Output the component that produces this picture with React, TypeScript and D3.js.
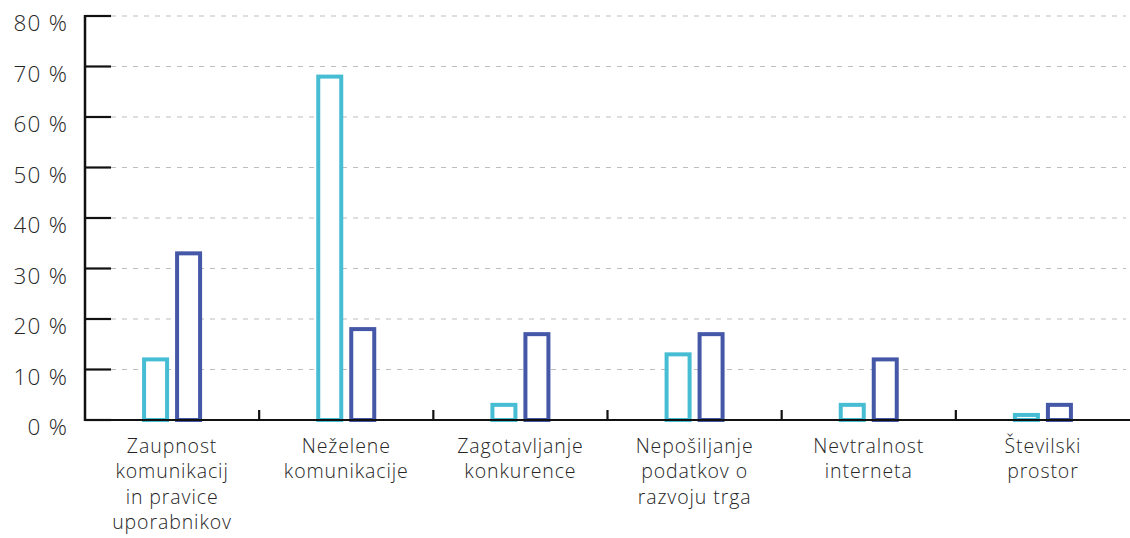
import React, { useEffect, useRef } from "react";
import * as d3 from "d3";

const categories: string[][] = [
  ["Zaupnost", "komunikacij", "in pravice", "uporabnikov"],
  ["Neželene", "komunikacije"],
  ["Zagotavljanje", "konkurence"],
  ["Nepošiljanje", "podatkov o", "razvoju trga"],
  ["Nevtralnost", "interneta"],
  ["Številski", "prostor"],
];
const seriesA: number[] = [12, 68, 3, 13, 3, 1];
const seriesB: number[] = [33, 18, 17, 17, 12, 3];
const yTicks: number[] = [0, 10, 20, 30, 40, 50, 60, 70, 80];

const W = 1130;
const H = 538;
const M = { left: 85, right: 0, top: 16, bottom: 118 };
const COLOR_A = "#46bdd3";
const COLOR_B = "#4558a7";
const TEXT = "#262626";
const FONT = "'Open Sans', Lato, sans-serif";

export default function App() {
  const ref = useRef<SVGSVGElement | null>(null);

  useEffect(() => {
    document.body.style.margin = "0";
    const svg = d3.select(ref.current);
    svg.selectAll("*").remove();

    const x = d3
      .scaleBand<number>()
      .domain(categories.map((_, i) => i))
      .range([M.left, W - M.right])
      .paddingInner(0)
      .paddingOuter(0);
    const y = d3.scaleLinear().domain([0, 80]).range([H - M.bottom, M.top]);

    const g = svg.append("g");

    // gridlines
    g.selectAll("line.grid")
      .data(yTicks.filter((t) => t > 0))
      .join("line")
      .attr("x1", M.left + 26)
      .attr("x2", W - 4)
      .attr("y1", (d) => y(d))
      .attr("y2", (d) => y(d))
      .attr("stroke", "#bdbdbd")
      .attr("stroke-width", 1.2)
      .attr("stroke-dasharray", "5,6");

    // y tick marks (inward)
    g.selectAll("line.ytick")
      .data(yTicks)
      .join("line")
      .attr("x1", M.left)
      .attr("x2", M.left + 26)
      .attr("y1", (d) => y(d))
      .attr("y2", (d) => y(d))
      .attr("stroke", "#111")
      .attr("stroke-width", 2.2);

    // y labels
    g.selectAll("text.ylab")
      .data(yTicks)
      .join("text")
      .attr("x", 68)
      .attr("y", (d) => y(d) + 15)
      .attr("text-anchor", "end")
      .attr("font-family", FONT)
      .attr("font-weight", 300)
      .attr("font-size", 22.5)
      .attr("letter-spacing", 1.2)
      .attr("fill", TEXT)
      .text((d) => `${d} %`);

    const bw = 23;
    const sw = 4;
    const half = 3 + 27 / 2; // center offset of each bar from band center

    g.selectAll("rect.a")
      .data(seriesA)
      .join("rect")
      .attr("x", (d, i) => x(i)! + x.bandwidth() / 2 - half - bw / 2)
      .attr("y", (d) => y(d))
      .attr("width", bw)
      .attr("height", (d) => y(0) - y(d))
      .attr("fill", "#fff")
      .attr("stroke", COLOR_A)
      .attr("stroke-width", sw);

    g.selectAll("rect.b")
      .data(seriesB)
      .join("rect")
      .attr("x", (d, i) => x(i)! + x.bandwidth() / 2 + half - bw / 2)
      .attr("y", (d) => y(d))
      .attr("width", bw)
      .attr("height", (d) => y(0) - y(d))
      .attr("fill", "#fff")
      .attr("stroke", COLOR_B)
      .attr("stroke-width", sw);

    // axes lines
    g.append("line")
      .attr("x1", M.left)
      .attr("x2", M.left)
      .attr("y1", y(80) - 1)
      .attr("y2", y(0) + 1)
      .attr("stroke", "#111")
      .attr("stroke-width", 2.5);
    g.append("line")
      .attr("x1", M.left)
      .attr("x2", W)
      .attr("y1", y(0))
      .attr("y2", y(0))
      .attr("stroke", "#111")
      .attr("stroke-width", 2.2);

    // x ticks at band boundaries
    g.selectAll("line.xtick")
      .data(categories.map((_, i) => i).slice(1))
      .join("line")
      .attr("x1", (d) => x(d)!)
      .attr("x2", (d) => x(d)!)
      .attr("y1", y(0) - 10)
      .attr("y2", y(0))
      .attr("stroke", "#111")
      .attr("stroke-width", 2.2);

    // category labels
    const lab = g
      .selectAll("text.xlab")
      .data(categories)
      .join("text")
      .attr("text-anchor", "middle")
      .attr("font-family", FONT)
      .attr("font-weight", 300)
      .attr("font-size", 19.5)
      .attr("letter-spacing", 0.9)
      .attr("fill", TEXT);
    lab
      .selectAll("tspan")
      .data((d, i) => d.map((line) => ({ line, i })))
      .join("tspan")
      .attr("x", (d) => x(d.i)! + x.bandwidth() / 2)
      .attr("y", (d, j) => 453 + j * 25.3)
      .text((d) => d.line);
  }, []);

  return <svg ref={ref} width={W} height={H} style={{ display: "block" }} />;
}
